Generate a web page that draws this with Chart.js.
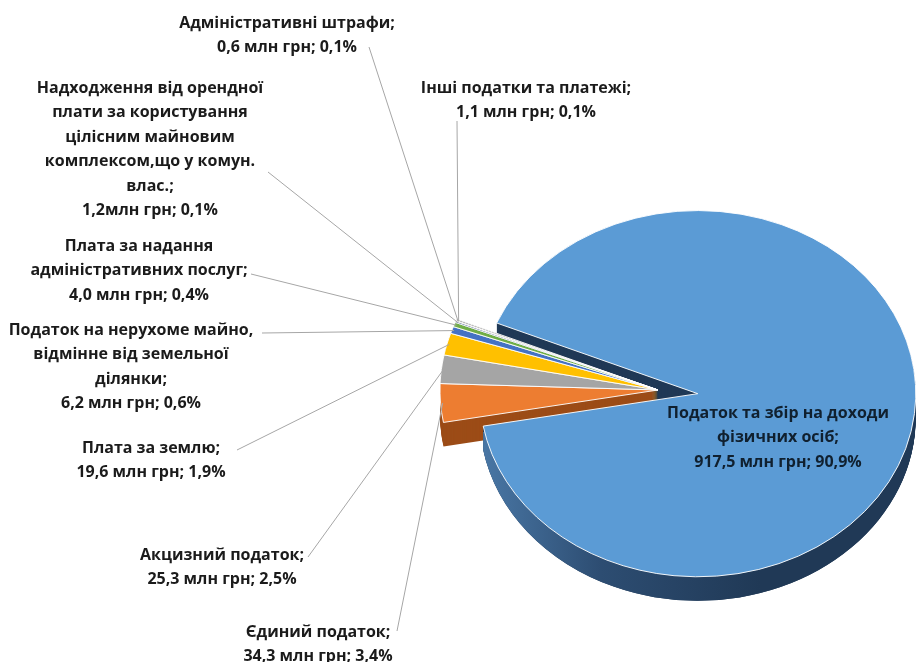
<!DOCTYPE html>
<html><head><meta charset="utf-8">
<script src="https://cdn.jsdelivr.net/npm/chart.js@4"></script>
<style>html,body{margin:0;padding:0;background:#fff}#wrap{width:916px;height:662px;position:relative}</style>
</head><body><div id="wrap"><canvas id="c"></canvas></div>
<script>
// ---------- data ----------
const categories = [
  'Податок та збір на доходи фізичних осіб',
  'Єдиний податок',
  'Акцизний податок',
  'Плата за землю',
  'Податок на нерухоме майно, відмінне від земельної ділянки',
  'Плата за надання адміністративних послуг',
  'Надходження від орендної плати за користування цілісним майновим комплексом,що у комун. влас.',
  'Адміністративні штрафи',
  'Інші податки та платежі'
];
const valuesMln = [917.5, 34.3, 25.3, 19.6, 6.2, 4.0, 1.2, 0.6, 1.1];
const sharePct  = [90.9, 3.4, 2.5, 1.9, 0.6, 0.4, 0.1, 0.1, 0.1];
const nameLines = [
  ['Податок та збір на доходи', 'фізичних осіб;'],
  ['Єдиний податок;'],
  ['Акцизний податок;'],
  ['Плата за землю;'],
  ['Податок на нерухоме майно,', 'відмінне від земельної', 'ділянки;'],
  ['Плата за надання', 'адміністративних послуг;'],
  ['Надходження від орендної', 'плати за користування', 'цілісним майновим', 'комплексом,що у комун.', 'влас.;'],
  ['Адміністративні штрафи;'],
  ['Інші податки та платежі;']
];
const unitText = [' млн грн; ', ' млн грн; ', ' млн грн; ', ' млн грн; ', ' млн грн; ', ' млн грн; ', 'млн грн; ', ' млн грн; ', ' млн грн; '];

// ---------- style / layout ----------
const topColors  = ['#5B9BD5', '#ED7D31', '#A5A5A5', '#FFC000', '#4472C4', '#70AD47', '#264478', '#9E480E', '#636363'];
const sideColors = ['#203956', '#9C4C17', '#6E6E6E', '#B08500', '#2C4C86', '#4B7A2E', '#182C4E', '#6A300A', '#424242'];
const explodePx  = [40, 0, 0, 0, 0, 0, 0, 0, 0];
const TILT = 0.84, DEPTH = 24, RADIUS = 218;
// label placement: centre x, first line y, leader anchor (or null)
const labelPos = [
  {x: 778, y: 413, a: null},
  {x: 318, y: 632, a: [397, 631]},
  {x: 222, y: 555, a: [308, 557]},
  {x: 151, y: 448, a: [237, 450]},
  {x: 131, y: 330, a: [262, 333]},
  {x: 139, y: 246, a: [251, 274]},
  {x: 150, y: 88,  a: [268, 172]},
  {x: 287, y: 23,  a: [369, 47]},
  {x: 526, y: 88,  a: [457, 121]}
];
const LINE_H = 24.5;
const FONT = 'bold 16px "Open Sans"';

const fmt = v => v.toFixed(1).replace('.', ',');

function explodeVec(a, i) {
  const m = (a.startAngle + a.endAngle) / 2;
  return [Math.cos(m) * explodePx[i], Math.sin(m) * explodePx[i]];
}
function tiltedPath(ctx, a, i, cx, cy, d) {
  const [ex, ey] = explodeVec(a, i);
  ctx.save();
  ctx.translate(0, d);
  ctx.translate(cx, cy); ctx.scale(1, TILT); ctx.translate(-cx, -cy);
  ctx.translate(ex, ey);
  ctx.beginPath();
  ctx.moveTo(a.x, a.y);
  ctx.arc(a.x, a.y, a.outerRadius, a.startAngle, a.endAngle);
  ctx.closePath();
  ctx.restore();
}

const pie3d = {
  id: 'pie3d',
  beforeDatasetsDraw(chart) {
    const ctx = chart.ctx;
    const arcs = chart.getDatasetMeta(0).data;
    const cx = arcs[0].x, cy = arcs[0].y;
    // side walls
    for (let d = DEPTH; d >= 1; d--) {
      arcs.forEach((a, i) => {
        tiltedPath(ctx, a, i, cx, cy, d);
        ctx.fillStyle = sideColors[i];
        ctx.fill();
      });
    }
    // lighter shading on the front rim of the big slice
    const g = ctx.createLinearGradient(470, 0, 760, 0);
    g.addColorStop(0, '#4C7BAA');
    g.addColorStop(0.45, '#2D4D72');
    g.addColorStop(1, '#203956');
    ctx.save();
    ctx.beginPath();
    ctx.rect(0, cy + 42, chart.width, chart.height);
    ctx.clip();
    for (let d = DEPTH; d >= 1; d--) {
      tiltedPath(ctx, arcs[0], 0, cx, cy, d);
      ctx.fillStyle = g;
      ctx.fill();
    }
    ctx.restore();
    // top faces drawn by Chart.js arc elements
    arcs.forEach((a, i) => {
      const [ex, ey] = explodeVec(a, i);
      ctx.save();
      ctx.translate(cx, cy); ctx.scale(1, TILT); ctx.translate(-cx, -cy);
      ctx.translate(ex, ey);
      a.draw(ctx);
      ctx.restore();
    });
    return false;
  },
  afterDraw(chart) {
    const ctx = chart.ctx;
    const arcs = chart.getDatasetMeta(0).data;
    const cx = arcs[0].x, cy = arcs[0].y;
    ctx.save();
    ctx.font = FONT;
    ctx.textAlign = 'center';
    ctx.textBaseline = 'middle';
    labelPos.forEach((p, i) => {
      const a = arcs[i];
      if (p.a) {
        const [ex, ey] = explodeVec(a, i);
        const m = (a.startAngle + a.endAngle) / 2;
        const r = a.outerRadius * 0.99;
        const tx = cx + ex + r * Math.cos(m);
        const ty = cy + TILT * (ey + r * Math.sin(m));
        ctx.strokeStyle = '#A6A6A6';
        ctx.lineWidth = 1;
        ctx.beginPath();
        ctx.moveTo(p.a[0], p.a[1]);
        ctx.lineTo(tx, ty);
        ctx.stroke();
      }
      const lines = nameLines[i].concat([fmt(valuesMln[i]) + unitText[i] + fmt(sharePct[i]) + '%']);
      ctx.fillStyle = i === 0 ? '#10202F' : '#1B1B1B';
      lines.forEach((t, j) => ctx.fillText(t, p.x, p.y + j * LINE_H));
    });
    ctx.restore();
  }
};

new Chart(document.getElementById('c'), {
  type: 'pie',
  data: {
    labels: categories,
    datasets: [{
      data: valuesMln,
      backgroundColor: topColors,
      borderColor: '#FFFFFF',
      borderWidth: 1
    }]
  },
  options: {
    responsive: true,
    maintainAspectRatio: false,
    animation: false,
    rotation: -67.3,
    radius: RADIUS,
    layout: {padding: {left: 416, right: 16, top: 134, bottom: 16}},
    plugins: {legend: {display: false}, tooltip: {enabled: false}}
  },
  plugins: [pie3d]
});
</script>
</body></html>
